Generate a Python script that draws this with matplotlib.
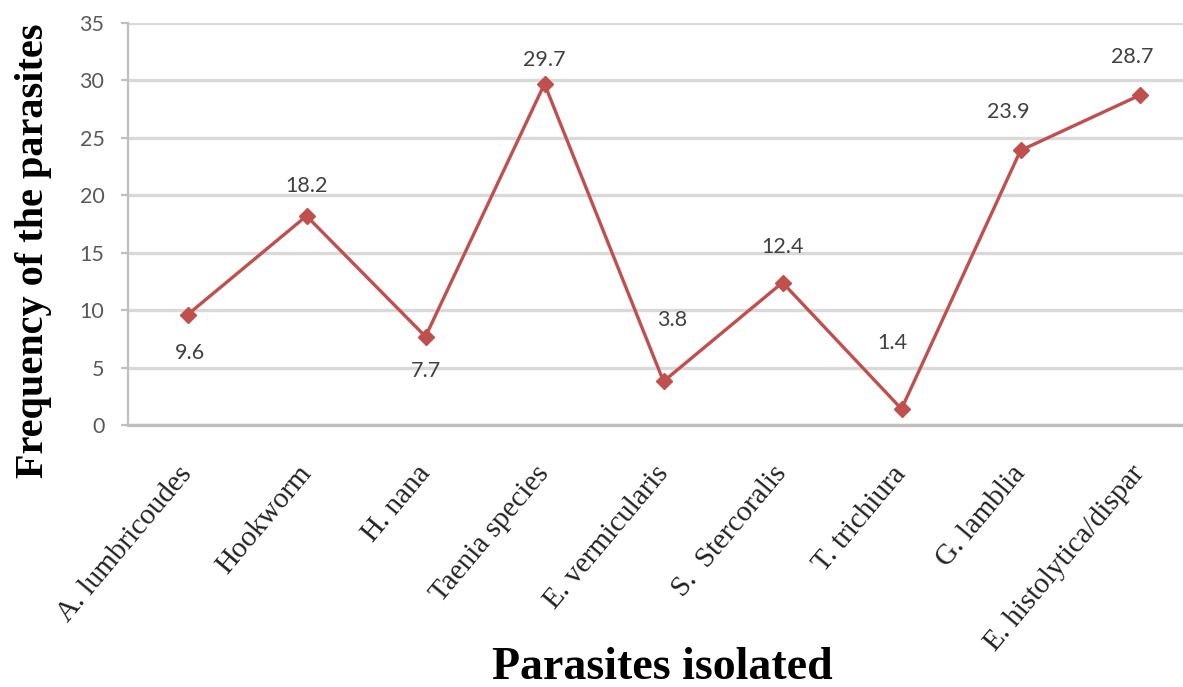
import matplotlib
matplotlib.use("Agg")
import matplotlib.pyplot as plt

# ── Data ───────────────────────────────────────────────────────────────────────
parasites = ["A. lumbricoudes", "Hookworm", "H. nana", "Taenia species",
             "E. vermicularis", "S.  Stercoralis", "T. trichiura", "G. lamblia",
             "E. histolytica/dispar"]
frequency = [9.6, 18.2, 7.7, 29.7, 3.8, 12.4, 1.4, 23.9, 28.7]
y_ticks = [0, 5, 10, 15, 20, 25, 30, 35]

# label offsets in pixels (Excel-style placement)
label_offsets = [(2, -38), (0, 30), (0, -34), (0, 24), (9, 61),
                 (0, 36), (-9, 66), (-12, 38), (-7, 38)]

RED = "#C0504D"
GRID = "#D9D9D9"

fig = plt.figure(figsize=(11.83, 6.87), dpi=100)
ax = fig.add_axes([128 / 1183, 262 / 687, 1071 / 1183, 402 / 687])

x = list(range(len(parasites)))
ax.plot(x, frequency, color=RED, linewidth=2.4, marker="D", markersize=8.5,
        markerfacecolor=RED, markeredgecolor=RED, zorder=3, clip_on=False)

for xi, v, (dx, dy) in zip(x, frequency, label_offsets):
    ax.annotate(f"{v}", (xi, v), xytext=(dx, dy), textcoords="offset pixels",
                ha="center", va="center", fontsize=15.5, color="#404040",
                family="Lato")

ax.set_xlim(-0.5, len(parasites) - 0.5)
ax.set_ylim(0, 35)
ax.set_yticks(y_ticks)
ax.yaxis.grid(True, color=GRID, linewidth=2.4)
ax.set_axisbelow(True)

for side in ["top", "right"]:
    ax.spines[side].set_visible(False)
ax.spines["left"].set_color("#BFBFBF")
ax.spines["left"].set_linewidth(1.6)
ax.spines["bottom"].set_color("#BFBFBF")
ax.spines["bottom"].set_linewidth(2.4)

ax.tick_params(axis="y", length=5, width=1.6, color="#BFBFBF", pad=12,
               labelsize=15.5, labelcolor="#595959")
for lbl in ax.get_yticklabels():
    lbl.set_family("Lato")

ax.set_xticks(x)
ax.set_xticklabels(parasites, rotation=50, ha="right", va="center",
                   rotation_mode="anchor", family="Liberation Serif",
                   fontsize=21, color="#222222")
ax.tick_params(axis="x", length=0, pad=32)

fig.text(34 / 1183, 1 - 251 / 687, "Frequency of the parasites", rotation=90,
         ha="center", va="center", fontsize=29, fontweight="bold",
         family="Liberation Serif")
fig.text(662 / 1183, 8 / 687, "Parasites isolated", ha="center", va="baseline",
         fontsize=33, fontweight="bold", family="Liberation Serif")

fig.savefig("out.png", dpi=100)
